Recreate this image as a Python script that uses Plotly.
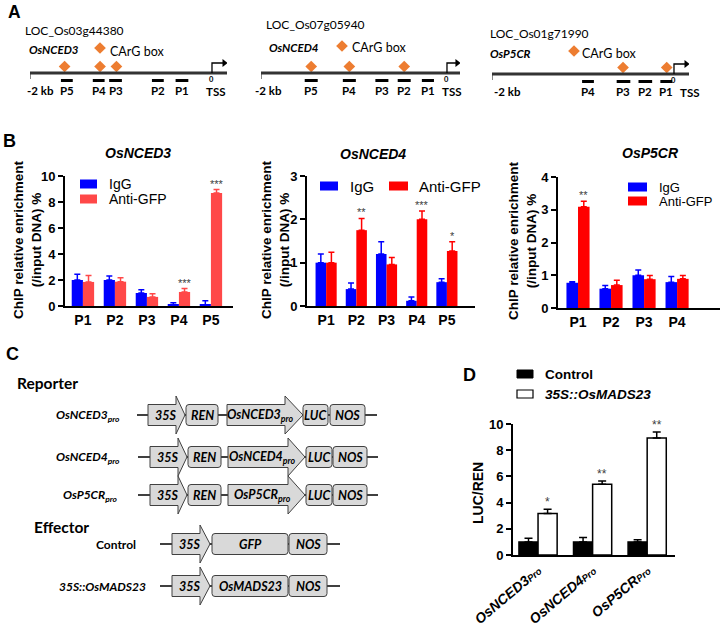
import plotly.graph_objects as go

# reference canvas size (the page margin is removed after plotting, see write_html below)
W, H = 723, 626
OX, OY = 0, 0
FW, FH = W - OX, H - OY
SANS = "Liberation Sans, Arial, Helvetica, sans-serif"
CAL = "Lato, Carlito, Calibri, sans-serif"


def dx(x):
    return (x - OX) / FW


def dy(y):
    return 1 - (y - OY) / FH


# ===================== DATA =====================
# Panel A: promoter maps, positions in kb relative to the TSS
a_loci = ["LOC_Os03g44380", "LOC_Os07g05940", "LOC_Os01g71990"]
a_genes = ["OsNCED3", "OsNCED4", "OsP5CR"]
a1_carg_kb = [-1.62, -1.23, -1.05]
a2_carg_kb = [-1.46, -1.05, -0.46]
a3_carg_kb = [-0.56, -0.08]
a1_primers = ["P5", "P4", "P3", "P2", "P1"]
a1_p_start = [-1.66, -1.31, -1.13, -0.66, -0.40]
a1_p_end = [-1.53, -1.18, -0.99, -0.53, -0.26]
a2_primers = ["P5", "P4", "P3", "P2", "P1"]
a2_p_start = [-1.53, -1.12, -0.77, -0.53, -0.27]
a2_p_end = [-1.39, -0.98, -0.63, -0.39, -0.14]
a3_primers = ["P4", "P3", "P2", "P1"]
a3_p_start = [-1.01, -0.63, -0.39, -0.15]
a3_p_end = [-0.88, -0.48, -0.24, -0.02]

# Panel B: ChIP relative enrichment (/input DNA) %
b1_cats = ["P1", "P2", "P3", "P4", "P5"]
b1_igg = [2.0, 2.0, 1.0, 0.1, 0.1]
b1_igg_err = [0.45, 0.3, 0.25, 0.15, 0.3]
b1_gfp = [1.85, 1.87, 0.7, 1.08, 8.7]
b1_gfp_err = [0.5, 0.3, 0.25, 0.26, 0.26]
b1_sig = ["", "", "", "***", "***"]

b2_cats = ["P1", "P2", "P3", "P4", "P5"]
b2_igg = [1.0, 0.39, 1.2, 0.12, 0.55]
b2_igg_err = [0.2, 0.14, 0.28, 0.09, 0.08]
b2_gfp = [1.0, 1.75, 0.96, 2.0, 1.27]
b2_gfp_err = [0.24, 0.27, 0.16, 0.19, 0.21]
b2_sig = ["", "**", "", "***", "*"]

b3_cats = ["P1", "P2", "P3", "P4"]
b3_igg = [0.77, 0.59, 1.0, 0.79]
b3_igg_err = [0.03, 0.1, 0.16, 0.17]
b3_gfp = [3.09, 0.7, 0.88, 0.89]
b3_gfp_err = [0.17, 0.15, 0.11, 0.1]
b3_sig = ["**", "", "", ""]

# Panel D: LUC/REN
d_cats = ["OsNCED3", "OsNCED4", "OsP5CR"]
d_control = [1.0, 1.0, 1.0]
d_control_err = [0.28, 0.34, 0.17]
d_mads = [3.17, 5.4, 8.93]
d_mads_err = [0.33, 0.24, 0.46]
d_sig = ["*", "**", "**"]

# Panel C: construct element labels
c_reporters = ["OsNCED3", "OsNCED4", "OsP5CR"]
c_effectors = ["Control", "35S::OsMADS23"]
c_effector_cds = ["GFP", "OsMADS23"]

# ===================== STYLE =====================
BLUE = "#0000FF"
RED_B1 = "#FF4848"
RED = "#FF0000"
ORANGE = "#ED7D31"
FILL = "#D9D9D9"
EDGE = "#404040"

fig = go.Figure()
ann, shp = [], []
axes = {}


def text(x, y, s, size, family=SANS, weight="normal", style="normal", color="black",
         xanchor="center", yanchor="middle", angle=0, xref="x8", yref="y8", **kw):
    d = dict(x=x, y=y, xref=xref, yref=yref, text=s, showarrow=False,
             xanchor=xanchor, yanchor=yanchor, textangle=angle,
             font=dict(family=family, size=size, weight=weight, style=style, color=color))
    d.update(kw)
    ann.append(d)


# overlay axes in reference-pixel units for the diagrams and labels
axes["xaxis8"] = dict(domain=[0, 1], range=[OX, W], visible=False, fixedrange=True, anchor="y8", automargin=False)
axes["yaxis8"] = dict(domain=[0, 1], range=[H, OY], visible=False, fixedrange=True, anchor="x8", automargin=False)

# panel letters
text(14, 12, "A", 17.5, weight="bold")
text(9, 141, "B", 18, weight="bold")
text(12, 354, "C", 18, weight="bold")
text(469, 375, "D", 18, weight="bold")

# ===================== PANEL A =====================
A_PARTS = [
    dict(carg=a1_carg_kb, names=a1_primers, ps=a1_p_start, pe=a1_p_end),
    dict(carg=a2_carg_kb, names=a2_primers, ps=a2_p_start, pe=a2_p_end),
    dict(carg=a3_carg_kb, names=a3_primers, ps=a3_p_start, pe=a3_p_end),
]
A_GEOM = [
    dict(x0=30, x1=227, kb_end=0.165, ly=73, loc=(23, 30), gene=(27, 49), leg=(100, 48), carg=(108, 51), kb_dx=-5, tss_dx=4),
    dict(x0=261, x1=460, kb_end=0.14, ly=73, loc=(264, 24), gene=(267, 47), leg=(342, 46), carg=(350, 47), kb_dx=-8, tss_dx=5),
    dict(x0=492, x1=689, kb_end=0.165, ly=74, loc=(488, 33), gene=(488, 53), leg=(574, 51), carg=(580, 53), kb_dx=0, tss_dx=16),
]
for i, (part, g) in enumerate(zip(A_PARTS, A_GEOM)):
    xa, ya = f"x{5 + i}", f"y{5 + i}"
    axes[f"xaxis{5 + i}"] = dict(domain=[dx(g["x0"]), dx(g["x1"])], range=[-2, g["kb_end"]],
                                 visible=False, fixedrange=True, anchor=ya, automargin=False)
    axes[f"yaxis{5 + i}"] = dict(domain=[dy(105), dy(10)], range=[105, 10],
                                 visible=False, fixedrange=True, anchor=xa, automargin=False)
    ly = g["ly"]
    shp.append(dict(type="line", xref=xa, yref=ya, x0=-2, x1=g["kb_end"], y0=ly, y1=ly,
                    line=dict(color="#333333", width=3)))
    shp.append(dict(type="line", xref=xa, yref=ya, x0=-2, x1=-2, y0=ly, y1=ly + 6,
                    line=dict(color="#333333", width=1.2)))
    # TSS bent arrow
    shp.append(dict(type="path", xref=xa, yref=ya,
                    path=f"M0,{ly} L0,{ly - 10} L{g['kb_end'] - 0.04},{ly - 10}",
                    line=dict(color="black", width=1.3)))
    fig.add_trace(go.Scatter(x=[g["kb_end"] - 0.03], y=[ly - 10], mode="markers",
                             marker=dict(symbol="triangle-right", size=7, color="black", line=dict(width=0)),
                             xaxis=xa, yaxis=ya, showlegend=False, hoverinfo="skip"))
    for s0, s1, nm in zip(part["ps"], part["pe"], part["names"]):
        shp.append(dict(type="line", xref=xa, yref=ya, x0=s0, x1=s1, y0=ly + 7.5, y1=ly + 7.5,
                        line=dict(color="black", width=3)))
        text((s0 + s1) / 2, ly + 18, nm, 11.5, family=CAL, weight="bold", xref=xa, yref=ya)
    fig.add_trace(go.Scatter(x=part["carg"], y=[ly - 6.5] * len(part["carg"]), mode="markers",
                             marker=dict(symbol="diamond", size=9, color=ORANGE, line=dict(width=0)),
                             xaxis=xa, yaxis=ya, showlegend=False, hoverinfo="skip"))
    text(-2, ly + 18, "-2 kb", 11.5, family=CAL, weight="bold", xanchor="left", xshift=g["kb_dx"], xref=xa, yref=ya)
    text(0, ly + 7, "0", 7.5, family=CAL, weight="bold", xref=xa, yref=ya)
    text(0, ly + 19, "TSS", 11.5, family=CAL, weight="bold", xshift=g["tss_dx"], xref=xa, yref=ya)
    # headers
    text(g["loc"][0], g["loc"][1], a_loci[i], 12, family=CAL, xanchor="left")
    text(g["gene"][0], g["gene"][1], a_genes[i], 11.5, family=CAL, weight="bold", style="italic", xanchor="left")
    text(g["carg"][0], g["carg"][1], "CArG box", 12.5, family=CAL, xanchor="left")
    fig.add_trace(go.Scatter(x=[g["leg"][0]], y=[g["leg"][1]], mode="markers",
                             marker=dict(symbol="diamond", size=9, color=ORANGE, line=dict(width=0)),
                             xaxis="x8", yaxis="y8", showlegend=False, hoverinfo="skip"))

# ===================== PANEL B =====================
B_SETS = [
    dict(cats=b1_cats, igg=b1_igg, ie=b1_igg_err, gfp=b1_gfp, ge=b1_gfp_err, sig=b1_sig, red=RED_B1,
         title="OsNCED3", ymax=10, dtick=2),
    dict(cats=b2_cats, igg=b2_igg, ie=b2_igg_err, gfp=b2_gfp, ge=b2_gfp_err, sig=b2_sig, red=RED,
         title="OsNCED4", ymax=3, dtick=1),
    dict(cats=b3_cats, igg=b3_igg, ie=b3_igg_err, gfp=b3_gfp, ge=b3_gfp_err, sig=b3_sig, red=RED,
         title="OsP5CR", ymax=4, dtick=1),
]
B_GEOM = [
    dict(x0=65, x1=233, yb=306, yt=176, xr=(-0.56, 4.69), title=(138, 153), ytitle=(27, 240), bw=11.2,
         leg=[(80, 97, 184, 107), (80, 97, 199, 107)], legsize=14),
    dict(x0=307, x1=475, yb=306, yt=176, xr=(-0.633, 4.93), title=(373, 154), ytitle=(275, 240), bw=10.5,
         leg=[(320, 338, 186, 348), (389, 408, 186, 417)], legsize=15),
    dict(x0=558, x1=720, yb=308, yt=177, xr=(-0.606, 4.3), title=(650, 153), ytitle=(522, 241), bw=11.5,
         leg=[(628, 647, 187, 657), (628, 647, 201, 657)], legsize=13),
]
for k, (s, g) in enumerate(zip(B_SETS, B_GEOM)):
    n = k + 1
    xa = "x" if n == 1 else f"x{n}"
    ya = "y" if n == 1 else f"y{n}"
    nz = [0] * len(s["cats"])
    fig.add_trace(go.Bar(x=s["cats"], y=s["igg"], name="IgG", marker=dict(color=BLUE, line=dict(width=0)),
                         error_y=dict(type="data", symmetric=False, array=s["ie"], arrayminus=nz,
                                      color=BLUE, thickness=1.5, width=3),
                         xaxis=xa, yaxis=ya, showlegend=False))
    fig.add_trace(go.Bar(x=s["cats"], y=s["gfp"], name="Anti-GFP", marker=dict(color=s["red"], line=dict(width=0)),
                         error_y=dict(type="data", symmetric=False, array=s["ge"], arrayminus=nz,
                                      color=s["red"], thickness=1.5, width=3),
                         xaxis=xa, yaxis=ya, showlegend=False))
    axes["xaxis" if n == 1 else f"xaxis{n}"] = dict(
        domain=[dx(g["x0"]), dx(g["x1"])], range=list(g["xr"]), type="category", anchor=ya,
        showline=True, linecolor="black", linewidth=2, ticks="", showgrid=False, zeroline=False,
        tickfont=dict(family=SANS, size=14, weight="bold", color="black"), fixedrange=True, automargin=False)
    axes["yaxis" if n == 1 else f"yaxis{n}"] = dict(
        domain=[dy(g["yb"]), dy(g["yt"])], range=[0, s["ymax"]], dtick=s["dtick"], anchor=xa,
        showline=True, linecolor="black", linewidth=2, ticks="outside", ticklen=5, tickwidth=2,
        tickcolor="black", showgrid=False, zeroline=False,
        tickfont=dict(family=SANS, size=13, weight="bold", color="black"), fixedrange=True, automargin=False)
    for c, v, e, st in zip(s["cats"], s["gfp"], s["ge"], s["sig"]):
        if st:
            text(c, v + e, st, 11, color="#404040", xref=xa, yref=ya, yanchor="bottom",
                 xshift=g["bw"] / 2, yshift=-2)
    text(g["title"][0], g["title"][1], s["title"], 14, weight="bold", style="italic")
    text(g["ytitle"][0], g["ytitle"][1], "ChIP relative enrichment<br>(/input DNA) %", 13.5,
         weight="bold", angle=-90)
    for (bx0, bx1, yc, tx), nm, col in zip(g["leg"], ["IgG", "Anti-GFP"], [BLUE, s["red"]]):
        shp.append(dict(type="rect", xref="x8", yref="y8", x0=bx0, x1=bx1, y0=yc - 4.5, y1=yc + 4.5,
                        fillcolor=col, line=dict(width=0)))
        text(tx, yc, nm, g["legsize"], xanchor="left")

# ===================== PANEL C =====================
def rrect(x0, y0, x1, y1, r=3):
    return (f"M{x0 + r},{y0} L{x1 - r},{y0} Q{x1},{y0} {x1},{y0 + r} L{x1},{y1 - r} "
            f"Q{x1},{y1} {x1 - r},{y1} L{x0 + r},{y1} Q{x0},{y1} {x0},{y1 - r} L{x0},{y0 + r} "
            f"Q{x0},{y0} {x0 + r},{y0} Z")


def arrow(x0, xb, x1, yc, hb=10.5, hh=19):
    return (f"M{x0},{yc - hb} L{xb},{yc - hb} L{xb},{yc - hh} L{x1},{yc} L{xb},{yc + hh} "
            f"L{xb},{yc + hb} L{x0},{yc + hb} Z")


def draw_row(label, label_right, yc, line_x, elems):
    shp.append(dict(type="line", xref="x8", yref="y8", x0=line_x[0], x1=line_x[1], y0=yc, y1=yc,
                    line=dict(color="black", width=1.5)))
    for e in elems:
        kind, lab = e[0], e[1]
        if kind == "arrow":
            x0, xb, x1 = e[2], e[3], e[4]
            shp.append(dict(type="path", xref="x8", yref="y8", path=arrow(x0, xb, x1, yc),
                            fillcolor=FILL, line=dict(color=EDGE, width=1)))
            cx = (x0 + xb) / 2 + 4
        else:
            x0, x1 = e[2], e[3]
            shp.append(dict(type="path", xref="x8", yref="y8", path=rrect(x0, yc - 10.5, x1, yc + 10.5),
                            fillcolor=FILL, line=dict(color=EDGE, width=1)))
            cx = (x0 + x1) / 2
        text(cx, yc, lab, 12.5, family=CAL, weight="bold", style="italic")
    text(label_right, yc, label, 12, family=CAL, weight="bold",
         style="normal" if label == "Control" else "italic", xanchor="right")


text(15, 383, "Reporter", 15.5, family=CAL, weight="bold", xanchor="left")
text(32, 527, "Effector", 15.5, family=CAL, weight="bold", xanchor="left")
REP_Y = [415, 457, 495]
for j, gname in enumerate(c_reporters):
    yc = REP_Y[j]
    if j == 0:
        elems = [("arrow", "35S", 148, 176, 185), ("box", "REN", 186, 218),
                 ("arrow", f"{gname}<sub>pro</sub>", 227, 285, 303), ("box", "LUC", 303, 328),
                 ("box", "NOS", 330, 365)]
        lx = (137, 377)
    else:
        elems = [("arrow", "35S", 150, 178, 187), ("box", "REN", 188, 221),
                 ("arrow", f"{gname}<sub>pro</sub>", 228, 288, 305), ("box", "LUC", 306, 332),
                 ("box", "NOS", 333, 367)]
        lx = (138, 378)
    draw_row(f"{gname}<sub>pro</sub>", 122 if j < 2 else 120, yc, lx, elems)

EFF_Y = [544, 586]
for j, (lab, cds) in enumerate(zip(c_effectors, c_effector_cds)):
    elems = [("arrow", "35S", 172, 200, 210), ("box", cds, 212, 288), ("box", "NOS", 289, 327)]
    draw_row(lab, 138 if j == 0 else 148, EFF_Y[j], (160, 340), elems)

# ===================== PANEL D =====================
nz = [0] * len(d_cats)
fig.add_trace(go.Bar(x=d_cats, y=d_control, name="Control",
                     marker=dict(color="black", line=dict(color="black", width=1.5)),
                     error_y=dict(type="data", symmetric=False, array=d_control_err, arrayminus=nz,
                                  color="black", thickness=1.5, width=4),
                     xaxis="x4", yaxis="y4", showlegend=False))
fig.add_trace(go.Bar(x=d_cats, y=d_mads, name="35S::OsMADS23",
                     marker=dict(color="white", line=dict(color="black", width=1.5)),
                     error_y=dict(type="data", symmetric=False, array=d_mads_err, arrayminus=nz,
                                  color="black", thickness=1.5, width=4),
                     xaxis="x4", yaxis="y4", showlegend=False))
axes["xaxis4"] = dict(domain=[dx(513), dx(675)], range=[-0.459, 2.51], type="category", anchor="y4",
                      tickvals=d_cats,
                      ticktext=[f"<i>{c}<span style='font-size:9.5px'>Pro</span></i>" for c in d_cats],
                      tickangle=-40, showline=True, linecolor="black", linewidth=2, ticks="",
                      showgrid=False, zeroline=False,
                      tickfont=dict(family=SANS, size=14, weight="bold", color="black"), fixedrange=True,
                      automargin=False)
axes["yaxis4"] = dict(domain=[dy(555), dy(424)], range=[0, 10], dtick=2, anchor="x4",
                      showline=True, linecolor="black", linewidth=2, ticks="outside", ticklen=5, tickwidth=2,
                      tickcolor="black", showgrid=False, zeroline=False,
                      tickfont=dict(family=SANS, size=13, weight="bold", color="black"), fixedrange=True,
                      automargin=False)
for c, v, e, st in zip(d_cats, d_mads, d_mads_err, d_sig):
    text(c, v + e, st, 12, color="#404040", xref="x4", yref="y4", yanchor="bottom", xshift=9.5, yshift=-2)
text(478, 493, "LUC/REN", 14, weight="bold", angle=-90)
shp.append(dict(type="rect", xref="x8", yref="y8", x0=517, x1=533, y0=370, y1=378,
                fillcolor="black", line=dict(color="black", width=1)))
shp.append(dict(type="rect", xref="x8", yref="y8", x0=517, x1=533, y0=390, y1=398,
                fillcolor="white", line=dict(color="black", width=1.2)))
text(543, 374, "Control", 13.5, weight="bold", xanchor="left")
text(543, 394, "35S::OsMADS23", 13.5, weight="bold", style="italic", xanchor="left")

fig.update_layout(
    template="none",
    width=FW, height=FH, margin=dict(l=0, r=0, t=0, b=0, autoexpand=False),
    paper_bgcolor="white", plot_bgcolor="rgba(0,0,0,0)",
    barmode="group", bargap=0.3, bargroupgap=0, showlegend=False,
    annotations=ann, shapes=shp, **axes,
)
fig.write_html("out.html", config={"displayModeBar": False},
               post_script="document.body.style.margin='0';document.body.style.overflow='hidden';")
